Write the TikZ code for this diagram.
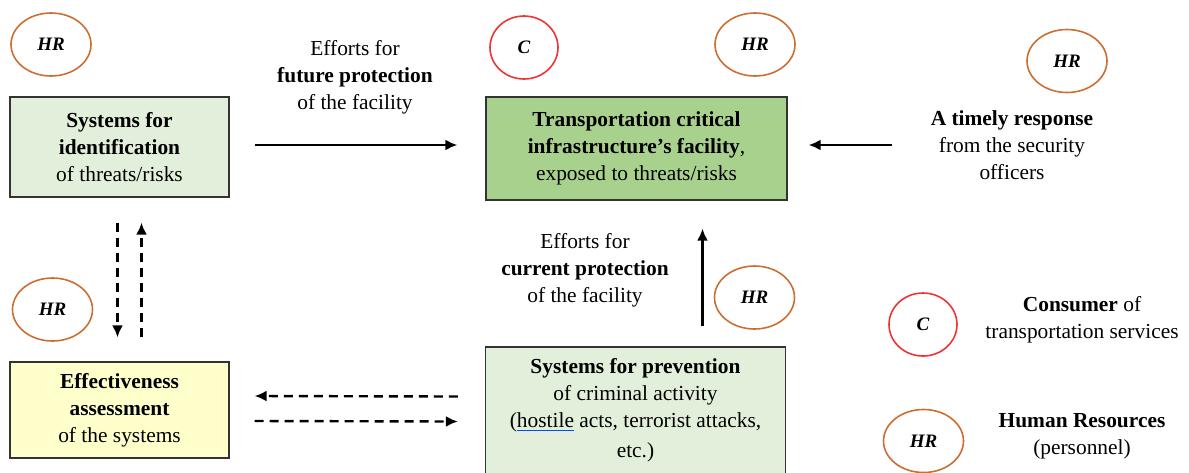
\documentclass[tikz,border=0pt]{standalone}
\usepackage{fontspec}
\setmainfont{Liberation Serif}
\usetikzlibrary{positioning, calc, arrows.meta, shapes.geometric}

\definecolor{hrorange}{RGB}{204,110,50}
\definecolor{cred}{RGB}{240,50,50}
\definecolor{palegreen}{RGB}{226,239,218}
\definecolor{midgreen}{RGB}{169,209,142}
\definecolor{paleyellow}{RGB}{255,255,204}

\begin{document}
\begin{tikzpicture}[x=0.5pt, y=-0.5pt, >={Latex[length=6pt,width=5.5pt]},
    every node/.style={font=\fontsize{10.7}{13.5}\selectfont, align=center},
    sysbox/.style={draw=black!80, line width=0.6pt, inner sep=2pt},
    hrnode/.style={ellipse, draw=hrorange, line width=0.8pt, minimum width=40pt,
        minimum height=31.5pt, inner sep=0pt, font=\fontsize{9.5}{11}\selectfont\bfseries\itshape},
    cnode/.style={hrnode, draw=cred, minimum width=34pt},
    solidarrow/.style={->, line width=1.2pt},
    dasharrow/.style={->, line width=1.2pt, dash pattern=on 4.5pt off 3pt}]

    \useasboundingbox (0,0) rectangle (1189,472);

    % ================= Boxes =================
    \node[sysbox, fill=palegreen, minimum width=109.5pt, minimum height=50pt] (sysid) at (119.5,147)
        {\textbf{Systems for}\\\textbf{identification}\\of threats/risks};
    \node[sysbox, fill=midgreen, minimum width=150.5pt, minimum height=51.5pt] (facility) at (636.5,148.5)
        {\textbf{Transportation critical}\\\textbf{infrastructure’s facility},\\exposed to threats/risks};
    \node[sysbox, fill=paleyellow, minimum width=109.5pt, minimum height=48pt] (assess) at (119.5,410)
        {\textbf{Effectiveness}\\\textbf{assessment}\\of the systems};
    \node[sysbox, fill=palegreen, minimum width=150pt, minimum height=63.5pt] (prevent) at (635.5,410.5)
        {\textbf{Systems for prevention}\\of criminal activity\\({\color{blue!70!cyan}\underline{\color{black}hostile}} acts, terrorist attacks,\\[1.5pt]etc.)};

    % ================= Texts =================
    \node (future) at (355,77) {Efforts for\\\textbf{future protection}\\of the facility};
    \node (current) at (585,270) {Efforts for\\\textbf{current protection}\\of the facility};
    \node (response) at (1012,145) {\textbf{A timely response}\\from the security\\officers};

    % ================= Ellipses =================
    \node[hrnode] (hr1) at (51,44.5) {HR};
    \node[cnode] (c1) at (524,47.5) {C};
    \node[hrnode] (hr2) at (755,44.5) {HR};
    \node[hrnode] (hr3) at (1067,61) {HR};
    \node[hrnode] (hr4) at (52.5,309.5) {HR};
    \node[hrnode] (hr5) at (754.5,297.5) {HR};

    % ================= Arrows =================
    \draw[solidarrow, shorten <=12.5pt, shorten >=14pt] (sysid.east |- 0,145) -- (facility.west |- 0,145);
    \draw[solidarrow, shorten <=16pt, shorten >=10.5pt] (response.west |- 0,145) -- (facility.east |- 0,145);
    \draw[solidarrow] ($(prevent.north)+(67,-20)$) -- ($(facility.south)+(66,28)$);

    \draw[dasharrow] ($(sysid.south)+(-2,25)$) -- ($(assess.north)+(-2,-24)$);
    \draw[dasharrow] ($(assess.north)+(22,-24)$) -- ($(sysid.south)+(22,25)$);
    \draw[dasharrow] ($(prevent.west)+(-27,-14)$) -- ($(assess.east)+(25,-14)$);
    \draw[dasharrow] ($(assess.east)+(25,11)$) -- ($(prevent.west)+(-27,11)$);

    % ================= Legend =================
    \node[cnode] (legc) at (923,324.5) {C};
    \node (legctext) at (1082,320) {\textbf{Consumer} of\\transportation services};
    \node[hrnode] (leghr) at (923.5,441) {HR};
    \node (leghrtext) at (1082,436.5) {\textbf{Human Resources}\\(personnel)};

\end{tikzpicture}
\end{document}
